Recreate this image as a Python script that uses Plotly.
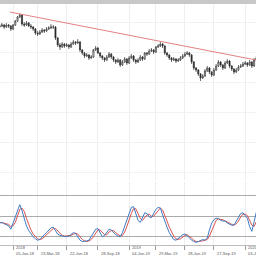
import pandas as pd
import plotly.graph_objects as go

# ---------------- data ----------------
dates = pd.date_range("2017-11-24", periods=116, freq="7D")

opens = [21.5,21.6,21.7,21.5,21.7,21.6,21.3,21.7,22.1,22.5,22.7,21.8,21.7,21.9,21.6,21.5,21.3,20.9,20.8,21.0,
         21.2,21.1,21.3,21.4,21.5,21.5,20.4,19.7,19.5,19.8,19.6,19.7,19.5,19.8,20.0,19.9,20.0,19.2,18.9,18.6,
         18.7,18.4,18.5,19.2,19.4,18.9,18.6,18.4,18.2,18.5,18.8,18.5,18.2,18.0,18.2,17.7,18.0,18.3,17.9,18.4,
         18.6,18.2,18.0,18.2,18.5,18.3,18.9,18.8,19.1,19.2,19.0,19.5,19.6,19.8,19.6,18.9,18.7,18.4,18.2,18.3,
         18.1,18.2,18.4,18.6,18.8,18.9,18.7,18.0,17.4,17.2,16.8,16.4,16.6,17.1,17.4,17.0,16.7,17.2,17.6,18.0,
         17.7,17.4,17.9,18.1,17.6,17.3,17.0,17.2,17.5,17.6,17.8,17.9,17.7,18.0,17.6,18.2]
closes = [21.6,21.7,21.5,21.7,21.6,21.3,21.7,22.1,22.5,22.7,21.8,21.7,21.9,21.6,21.5,21.3,20.9,20.8,21.0,21.2,
          21.1,21.3,21.4,21.5,21.5,20.4,19.7,19.5,19.8,19.6,19.7,19.5,19.8,20.0,19.9,20.0,19.2,18.9,18.6,18.7,
          18.4,18.5,19.2,19.4,18.9,18.6,18.4,18.2,18.5,18.8,18.5,18.2,18.0,18.2,17.7,18.0,18.3,17.9,18.4,18.6,
          18.2,18.0,18.2,18.5,18.3,18.9,18.8,19.1,19.2,19.0,19.5,19.6,19.8,19.6,18.9,18.7,18.4,18.2,18.3,18.1,
          18.2,18.4,18.6,18.8,18.9,18.7,18.0,17.4,17.2,16.8,16.4,16.6,17.1,17.4,17.0,16.7,17.2,17.6,18.0,17.7,
          17.4,17.9,18.1,17.6,17.3,17.0,17.2,17.5,17.6,17.8,17.9,17.7,18.0,17.6,18.2,18.4]
highs = [21.8,21.9,21.8,21.9,21.8,21.7,21.8,22.2,22.6,22.85,22.8,22.0,22.1,22.0,21.8,21.6,21.4,21.1,21.2,21.4,
         21.3,21.5,21.6,21.8,21.7,21.6,20.5,19.9,20.0,19.9,19.9,19.8,20.0,20.2,20.1,20.3,20.1,19.3,19.0,18.9,
         18.8,18.7,19.3,19.6,19.5,19.0,18.7,18.5,18.7,19.0,18.9,18.6,18.3,18.4,18.3,18.2,18.5,18.4,18.6,18.8,
         18.7,18.3,18.4,18.7,18.6,19.0,19.0,19.3,19.4,19.3,19.6,19.8,20.0,19.9,19.7,19.0,18.8,18.5,18.5,18.4,
         18.4,18.6,18.8,19.0,19.1,19.0,18.8,18.1,17.5,17.3,16.9,16.8,17.3,17.6,17.5,17.1,17.4,17.8,18.2,18.1,
         17.8,18.1,18.3,18.2,17.7,17.4,17.4,17.7,17.8,18.0,18.1,18.0,18.2,18.1,18.4,18.6]
lows = [21.4,21.5,21.3,21.4,21.4,21.1,21.2,21.6,22.0,22.4,21.6,21.5,21.6,21.5,21.3,21.1,20.7,20.6,20.7,20.9,
        20.9,21.0,21.2,21.3,21.3,20.2,19.5,19.2,19.4,19.4,19.5,19.3,19.4,19.7,19.7,19.8,19.0,18.7,18.4,18.5,
        18.2,18.3,18.4,19.1,18.8,18.4,18.2,18.0,18.1,18.4,18.3,18.0,17.8,17.9,17.5,17.6,17.9,17.7,17.8,18.3,
        18.0,17.8,17.9,18.1,18.1,18.2,18.6,18.7,19.0,18.8,18.9,19.4,19.5,19.4,18.7,18.5,18.2,18.0,18.1,17.9,
        18.0,18.1,18.3,18.5,18.7,18.5,17.8,17.2,17.0,16.6,16.1,16.3,16.5,17.0,16.8,16.5,16.6,17.1,17.5,17.5,
        17.2,17.3,17.8,17.4,17.1,16.8,16.9,17.1,17.4,17.5,17.7,17.5,17.6,17.4,17.5,18.1]

stoch_k = [40,41,39,38,36,31,40,52,61,67,58,46,36,29,24,20,17,15,16,20,
           23,26,30,33,34,29,24,22,21,21,20,21,24,26,25,20,15,13,13,14,
           15,20,26,31,32,26,20,22,27,31,30,26,23,21,20,26,35,45,55,63,
           64,55,44,41,48,55,54,49,48,54,60,63,62,52,42,34,26,20,16,15,
           17,20,23,24,22,18,15,13,12,13,14,16,15,18,30,40,45,47,47,44,
           43,43,40,38,37,37,43,50,54,55,51,47,35,28,42,56]
stoch_d = [41,41,40,39,38,35,36,41,51,60,62,57,47,37,30,24,20,17,16,17,
           20,23,26,30,32,32,29,25,22,21,21,21,22,24,25,24,20,16,14,13,
           14,16,20,26,30,30,26,23,23,27,29,29,26,23,21,22,27,35,45,54,
           61,61,54,47,44,48,52,53,50,50,54,59,62,59,52,43,34,27,21,17,
           16,17,20,22,23,21,18,15,13,13,13,14,15,16,21,29,38,44,46,46,
           45,43,42,40,38,37,39,43,49,53,53,51,44,37,35,42]

trend_dates = ["2017-12-26", "2020-02-06"]
trend_prices = [23.0, 18.2]

tick_dates = ["2018-01-05", "2018-03-23", "2018-06-22", "2018-09-28", "2019-01-04",
              "2019-03-29", "2019-06-28", "2019-09-27", "2020-01-03"]
tick_text = ["05-Jan-18", "23-Mar-18", "22-Jun-18", "28-Sep-18", "04-Jan-19",
             "29-Mar-19", "28-Jun-19", "27-Sep-19", "03-Jan-20"]
year_dates = ["2018-01-05", "2019-01-04", "2020-01-03"]
year_text = ["2018", "2019", "2020"]

# ---------------- figure ----------------
fig = go.Figure()

fig.add_trace(go.Candlestick(
    x=dates, open=opens, high=highs, low=lows, close=closes,
    increasing=dict(line=dict(color="#333333", width=0.7), fillcolor="#ffffff"),
    decreasing=dict(line=dict(color="#333333", width=0.7), fillcolor="#1a1a1a"),
    whiskerwidth=0, xaxis="x", yaxis="y", showlegend=False,
))

fig.add_trace(go.Scatter(
    x=trend_dates, y=trend_prices, mode="lines",
    line=dict(color="#e58080", width=1), xaxis="x", yaxis="y", showlegend=False,
))

fig.add_trace(go.Scatter(
    x=dates, y=stoch_d, mode="lines",
    line=dict(color="#d9534f", width=1), xaxis="x", yaxis="y2", showlegend=False,
))
fig.add_trace(go.Scatter(
    x=dates, y=stoch_k, mode="lines",
    line=dict(color="#3d7cc4", width=1), xaxis="x", yaxis="y2", showlegend=False,
))

H = 241.0  # plot-area height in px
annotations = []
for d, t in zip(tick_dates, tick_text):
    annotations.append(dict(x=d, y=-8.0 / H, xref="x", yref="paper", text=t,
                            showarrow=False, xanchor="left", yanchor="middle",
                            xshift=1, font=dict(size=4, color="#555555",
                                                family="Liberation Sans")))
for d, t in zip(year_dates, year_text):
    annotations.append(dict(x=d, y=-2.5 / H, xref="x", yref="paper", text=t,
                            showarrow=False, xanchor="left", yanchor="middle",
                            xshift=1, font=dict(size=4, color="#555555",
                                                family="Liberation Sans")))

fig.update_layout(
    width=256, height=256,
    margin=dict(l=0, r=0, t=4, b=11),
    paper_bgcolor="#ffffff", plot_bgcolor="#ffffff",
    showlegend=False,
    xaxis=dict(
        type="date", range=["2017-11-25", "2020-02-06"],
        rangeslider=dict(visible=False),
        tickvals=tick_dates, showticklabels=False,
        ticks="outside", ticklen=4, tickcolor="#999999", tickwidth=1,
        showgrid=True, gridcolor="#eeeeee", gridwidth=1,
        showline=True, linecolor="#bbbbbb", linewidth=1,
        zeroline=False, anchor="y2",
    ),
    yaxis=dict(
        domain=[(245 - 180) / H, 1.0], range=[6.2, 23.8],
        tick0=1, dtick=3, showticklabels=False,
        showgrid=True, gridcolor="#f2f2f2", gridwidth=1, zeroline=False,
    ),
    yaxis2=dict(
        domain=[0, (245 - 182) / H], range=[8, 100],
        tickvals=[20, 50, 80], showticklabels=False,
        showgrid=True, gridcolor="#aaaaaa", gridwidth=1, zeroline=False,
    ),
    shapes=[dict(type="rect", xref="paper", yref="paper", x0=0, x1=1,
                 y0=1.0, y1=1.0 + 4 / H, fillcolor="#c8c8c8", line=dict(width=0),
                 layer="above")],
    annotations=annotations,
)

fig.write_html("out.html")
